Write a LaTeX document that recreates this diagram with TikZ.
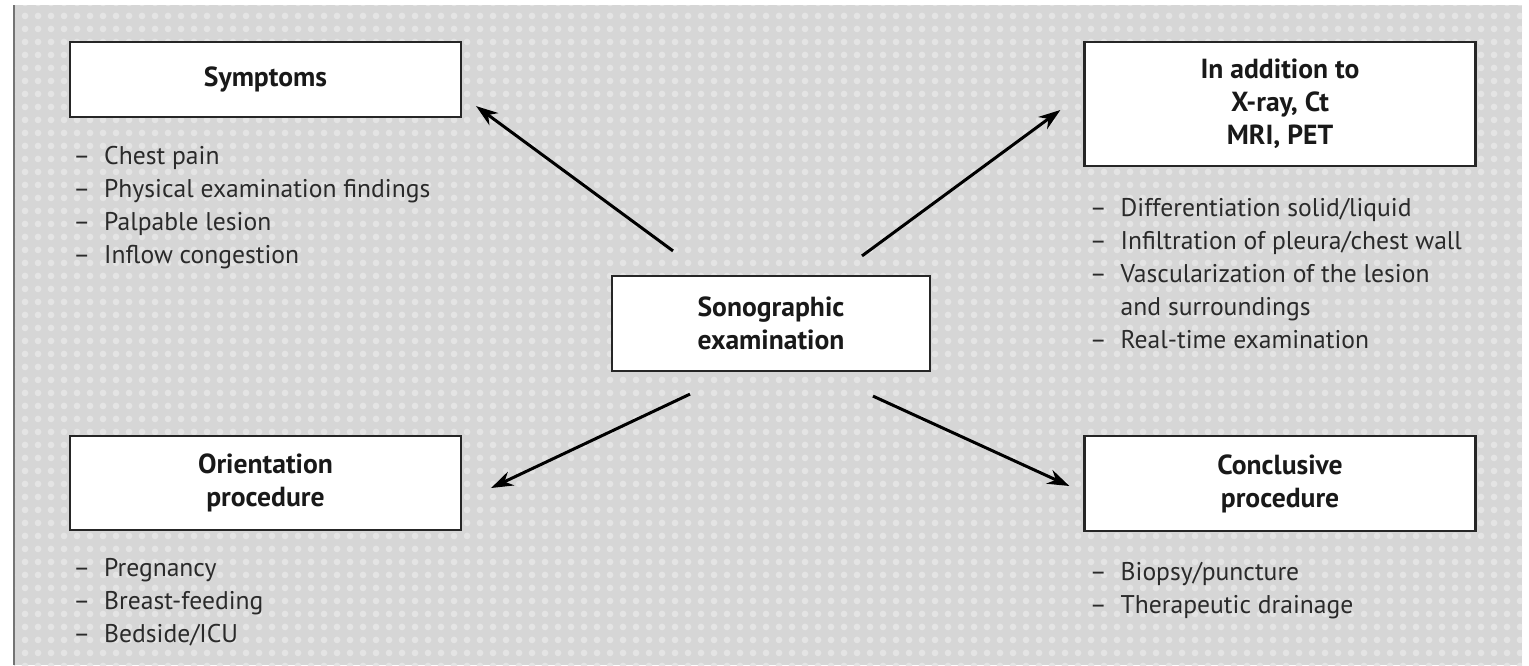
\documentclass[tikz,border=0pt]{standalone}
\usepackage{fontspec}
\setmainfont{PT Sans}
\usepackage{xcolor}
\usetikzlibrary{arrows.meta,patterns.meta}

\definecolor{panel}{HTML}{D6D6D6}
\definecolor{speck}{HTML}{E4E4E4}
\definecolor{ink}{HTML}{2A2A2A}

% one bulleted column under a box
\newcommand{\dashlist}[1]{\begin{tabular}[t]{@{}l@{\hspace{7pt}}l@{}}#1\end{tabular}}

\begin{document}
\begin{tikzpicture}[x=0.5pt, y=-0.5pt, >={Stealth[length=11pt,width=7.5pt]},
  box/.style={draw=black!85, line width=1.1pt, fill=white, minimum width=195.5pt,
    align=center, text=black!90, font=\bfseries\fontsize{13.8}{16.5}\selectfont},
  items/.style={anchor=base west, inner sep=0pt, text=ink,
    font=\fontsize{12.8}{16.5}\selectfont},
  arr/.style={->, line width=1.5pt}]

\useasboundingbox (0,0) rectangle (1529,665);

% textured panel
\fill[panel] (14,5) rectangle (1522,665);
\fill[pattern={Dots[distance=6.5pt,radius=1.8pt]}, pattern color=speck] (14,5) rectangle (1522,665);
\draw[black!55, line width=1pt] (14,5) -- (14,665);

% boxes
\node [box, minimum height=37.5pt] (sym) at (265.5,79.5) {Symptoms};
\node [box, minimum height=62pt] (add) at (1280,104) {In addition to\\X-ray, Ct\\MRI, PET};
\node [box, minimum width=159pt, minimum height=47.5pt] (son) at (771,323.5) {Sonographic\\examination};
\node [box, minimum height=47pt] (ori) at (265.5,483) {Orientation\\procedure};
\node [box, minimum height=47.5pt] (con) at (1280,483.5) {Conclusive\\procedure};

% lists
\node [items] (symlist) at ([shift={(4,46)}]sym.south west) {\dashlist{
  -- & Chest pain\\
  -- & Physical examination findings\\
  -- & Palpable lesion\\
  -- & Inflow congestion}};
\node [items] (addlist) at ([shift={(6,49)}]add.south west) {\dashlist{
  -- & Differentiation solid/liquid\\
  -- & Infiltration of pleura/chest wall\\
  -- & Vascularization of the lesion\\
     & and surroundings\\
  -- & Real-time examination}};
\node [items] (orilist) at ([shift={(4,45)}]ori.south west) {\dashlist{
  -- & Pregnancy\\
  -- & Breast-feeding\\
  -- & Bedside/ICU}};
\node [items] (conlist) at ([shift={(6,48)}]con.south west) {\dashlist{
  -- & Biopsy/puncture\\
  -- & Therapeutic drainage}};

% arrows
\draw [arr] ([shift={(-98,-24)}]son.north) -- ([shift={(14,-12)}]sym.south east);
\draw [arr] ([shift={(91,-19)}]son.north) -- ([shift={(-23,6)}]add.west);
\draw [arr] ([shift={(-81,22)}]son.south) -- ([shift={(29,5)}]ori.east);
\draw [arr] ([shift={(102,24)}]son.south) -- ([shift={(-14,2.5)}]con.west);

\end{tikzpicture}
\end{document}
